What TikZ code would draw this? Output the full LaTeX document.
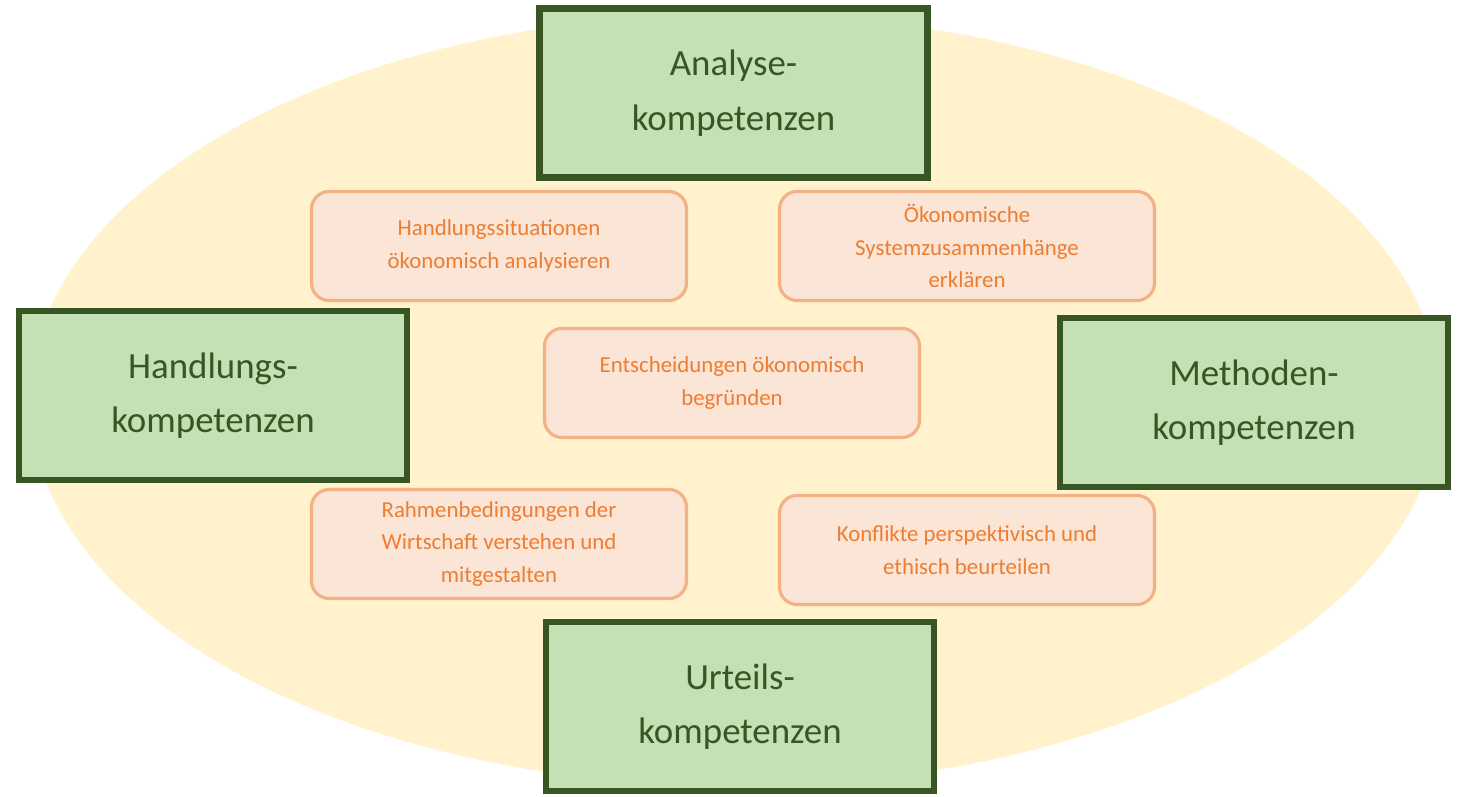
\documentclass[tikz,border=0pt]{standalone}
\usepackage{fontspec}
\setmainfont{Carlito}
\definecolor{gfill}{HTML}{C5E0B4}
\definecolor{gline}{HTML}{375623}
\definecolor{ofill}{HTML}{FBE5D6}
\definecolor{oline}{HTML}{F4B183}
\definecolor{otext}{HTML}{ED7D31}
\definecolor{ell}{HTML}{FFF2CC}
\tikzset{
 gbox/.style={draw=gline,fill=gfill,line width=3.6pt,minimum width=388\unitpx,minimum height=169\unitpx,align=center,text=gline,font=\fontsize{21}{31}\selectfont},
 obox/.style={draw=oline,fill=ofill,line width=1.8pt,rounded corners=10pt,minimum width=375\unitpx,minimum height=109\unitpx,align=center,text=otext,font=\fontsize{13}{18.5}\selectfont}
}
\newcommand{\unitpx}{*0.02cm}
\begin{document}
\begin{tikzpicture}[x=0.02cm,y=-0.02cm]
\useasboundingbox (0,0) rectangle (1466,797);
\fill[ell] (735,400) ellipse [x radius=705, y radius=386];
\node[gbox] (ana) at (733.5,93) {Analyse-\\kompetenzen};
\node[gbox] (han) at (213,395.5) {Handlungs-\\kompetenzen};
\node[gbox] (met) at (1254,402.5) {Methoden-\\kompetenzen};
\node[gbox] (urt) at (740,706.5) {Urteils-\\kompetenzen};
\node[obox] (o1) at (499,246) {Handlungssituationen\\ökonomisch analysieren};
\node[obox] (o2) at (967,246) {Ökonomische\\Systemzusammenhänge\\erklären};
\node[obox] (o3) at (732,383) {Entscheidungen ökonomisch\\begründen};
\node[obox] (o4) at (499,544) {Rahmenbedingungen der\\Wirtschaft verstehen und\\mitgestalten};
\node[obox] (o5) at (967,550) {Konflikte perspektivisch und\\ethisch beurteilen};
\end{tikzpicture}
\end{document}
